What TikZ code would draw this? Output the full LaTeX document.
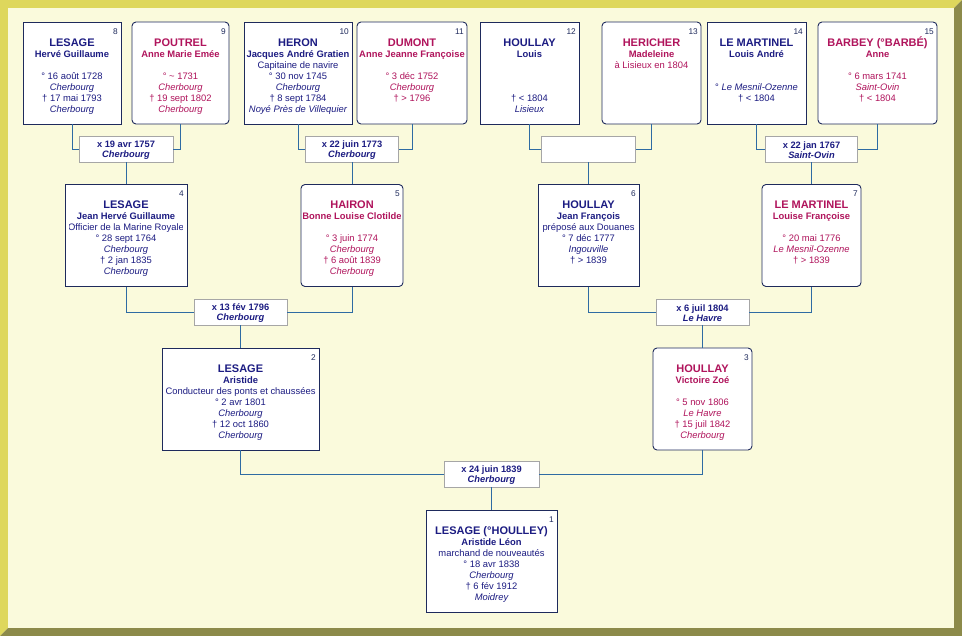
\documentclass[tikz,border=0pt]{standalone}
\usepackage{fontspec}
\setmainfont{Liberation Sans}
\usepackage{xcolor}
\usepackage{tikz}
\usetikzlibrary{positioning}

\definecolor{bleuhomme}{HTML}{1C1C82}
\definecolor{rosefemme}{HTML}{B0145C}
\definecolor{trait}{HTML}{2E6BA3}
\definecolor{fond}{HTML}{FAFADC}
\definecolor{cadre}{HTML}{1E2A5C}
\definecolor{gris}{HTML}{A6A6A6}
\definecolor{biseauclair}{HTML}{DED75C}
\definecolor{biseaufonce}{HTML}{8C8A4A}

\newcommand{\nom}[1]{\rule{0pt}{10pt}{\fontsize{11}{11}\selectfont\bfseries #1}}
\newcommand{\prenom}[1]{{\bfseries #1}}
\newcommand{\lieu}[1]{{\itshape #1}}
\newcommand{\vide}{\mbox{}}
\newcommand{\noce}[1]{\rule{0pt}{8.7pt}#1}

\begin{document}
\begin{tikzpicture}[x = 1pt, y = -1pt]
	\tikzstyle{male} = [rectangle, draw = cadre, line width = 0.9pt, fill = white, minimum height = 102pt, inner sep = 0pt]
	\tikzstyle{female} = [male, rounded corners = 4pt]
	\tikzstyle{union} = [rectangle, draw = gris, line width = 0.9pt, fill = white, minimum height = 26pt, inner sep = 0pt, align = center, text = bleuhomme, font = \fontsize{9.3}{10.5}\selectfont\bfseries]
	\tikzstyle{texte} = [anchor = north, inner sep = 0pt, align = center, font = \fontsize{9.4}{11}\selectfont]
	\tikzstyle{numero} = [anchor = east, inner sep = 0pt, text = cadre, font = \fontsize{8.3}{8}\selectfont]
	\tikzstyle{lien} = [draw = trait, line width = 0.9pt]
\useasboundingbox (0,0) rectangle (962,636);
% cadre
\fill[biseauclair] (0,0) -- (962,0) -- (954,8) -- (8,8) -- (8,628) -- (0,636) -- cycle;
\fill[biseaufonce] (962,0) -- (962,636) -- (0,636) -- (8,628) -- (954,628) -- (954,8) -- cycle;
\fill[fond] (8,8) rectangle (954,628);
% generation 4
\node[male, minimum width = 98pt] (p8) at (72,73) {};
\node[female, minimum width = 97pt] (p9) at (180.5,73) {};
\node[male, minimum width = 108pt] (p10) at (298,73) {};
\node[female, minimum width = 110pt] (p11) at (412,73) {};
\node[male, minimum width = 99pt] (p12) at (529.5,73) {};
\node[female, minimum width = 99pt] (p13) at (651.5,73) {};
\node[male, minimum width = 99pt] (p14) at (756.5,73) {};
\node[female, minimum width = 119pt] (p15) at (877.5,73) {};
% generation 3
\node[male, minimum width = 122pt] (p4) at (126,235.5) {};
\node[female, minimum width = 102pt] (p5) at (352,235.5) {};
\node[male, minimum width = 101pt] (p6) at (588.5,235.5) {};
\node[female, minimum width = 99pt] (p7) at (811.5,235.5) {};
% generation 2
\node[male, minimum width = 157pt] (p2) at (240.5,399) {};
\node[female, minimum width = 99pt] (p3) at (702.5,399) {};
% generation 1
\node[male, minimum width = 131pt] (p1) at (491.5,561) {};
% mariages
\node[union, minimum width = 94pt] (m8) at (126,149) {\noce{x 19 avr 1757}\\ \lieu{Cherbourg}};
\node[union, minimum width = 93pt] (m10) at (352,149) {\noce{x 22 juin 1773}\\ \lieu{Cherbourg}};
\node[union, minimum width = 94pt] (m12) at (588.5,149) {};
\node[union, minimum width = 92pt] (m14) at (811.5,149) {\noce{x 22 jan 1767}\\ \lieu{Saint-Ovin}};
\node[union, minimum width = 93pt] (m4) at (240.5,312) {\noce{x 13 fév 1796}\\ \lieu{Cherbourg}};
\node[union, minimum width = 93pt] (m6) at (702.5,312) {\noce{x 6 juil 1804}\\ \lieu{Le Havre}};
\node[union, minimum width = 95pt] (m2) at (491.5,474) {\noce{x 24 juin 1839}\\ \lieu{Cherbourg}};
% liens
	\path[draw][lien] (p8.south) |- (m8.west);
	\path[draw][lien] (p9.south) |- (m8.east);
	\path[draw][lien] (m8.south) -- (p4.north);
	\path[draw][lien] (p10.south) |- (m10.west);
	\path[draw][lien] (p11.south) |- (m10.east);
	\path[draw][lien] (m10.south) -- (p5.north);
	\path[draw][lien] (p12.south) |- (m12.west);
	\path[draw][lien] (p13.south) |- (m12.east);
	\path[draw][lien] (m12.south) -- (p6.north);
	\path[draw][lien] (p14.south) |- (m14.west);
	\path[draw][lien] (p15.south) |- (m14.east);
	\path[draw][lien] (m14.south) -- (p7.north);
	\path[draw][lien] (p4.south) |- (m4.west);
	\path[draw][lien] (p5.south) |- (m4.east);
	\path[draw][lien] (m4.south) -- (p2.north);
	\path[draw][lien] (p6.south) |- (m6.west);
	\path[draw][lien] (p7.south) |- (m6.east);
	\path[draw][lien] (m6.south) -- (p3.north);
	\path[draw][lien] (p2.south) |- (m2.west);
	\path[draw][lien] (p3.south) |- (m2.east);
	\path[draw][lien] (m2.south) -- (p1.north);
% fiches
\node[texte, text = bleuhomme] (t8) at ([yshift = -14.7pt]p8.north) {\nom{LESAGE}\\ \prenom{Hervé Guillaume}\\ \vide\\ ° 16 août 1728\\ \lieu{Cherbourg}\\ † 17 mai 1793\\ \lieu{Cherbourg}};
\node[texte, text = rosefemme] (t9) at ([yshift = -14.7pt]p9.north) {\nom{POUTREL}\\ \prenom{Anne Marie Emée}\\ \vide\\ ° \textasciitilde{} 1731\\ \lieu{Cherbourg}\\ † 19 sept 1802\\ \lieu{Cherbourg}};
\node[texte, text = bleuhomme] (t10) at ([yshift = -14.7pt]p10.north) {\nom{HERON}\\ \prenom{Jacques André Gratien}\\ Capitaine de navire\\ ° 30 nov 1745\\ \lieu{Cherbourg}\\ † 8 sept 1784\\ \lieu{Noyé Près de Villequier}};
\node[texte, text = rosefemme] (t11) at ([yshift = -14.7pt]p11.north) {\nom{DUMONT}\\ \prenom{Anne Jeanne Françoise}\\ \vide\\ ° 3 déc 1752\\ \lieu{Cherbourg}\\ † > 1796};
\node[texte, text = bleuhomme] (t12) at ([yshift = -14.7pt]p12.north) {\nom{HOULLAY}\\ \prenom{Louis}\\ \vide\\ \vide\\ \vide\\ † < 1804\\ \lieu{Lisieux}};
\node[texte, text = rosefemme] (t13) at ([yshift = -14.7pt]p13.north) {\nom{HERICHER}\\ \prenom{Madeleine}\\ à Lisieux en 1804};
\node[texte, text = bleuhomme] (t14) at ([yshift = -14.7pt]p14.north) {\nom{LE MARTINEL}\\ \prenom{Louis André}\\ \vide\\ \vide\\ ° \lieu{Le Mesnil-Ozenne}\\ † < 1804};
\node[texte, text = rosefemme] (t15) at ([yshift = -14.7pt]p15.north) {\nom{BARBEY (°BARBÉ)}\\ \prenom{Anne}\\ \vide\\ ° 6 mars 1741\\ \lieu{Saint-Ovin}\\ † < 1804};
\begin{scope}
	\clip ([xshift = 5pt]p4.south west) rectangle ([xshift = -5pt]p4.north east);
\node[texte, text = bleuhomme] (t4) at ([yshift = -14.7pt]p4.north) {\nom{LESAGE}\\ \prenom{Jean Hervé Guillaume}\\ Officier de la Marine Royale\\ ° 28 sept 1764\\ \lieu{Cherbourg}\\ † 2 jan 1835\\ \lieu{Cherbourg}};
\end{scope}
\begin{scope}
	\clip ([xshift = 3pt]p5.south west) rectangle ([xshift = -3pt]p5.north east);
\node[texte, text = rosefemme] (t5) at ([yshift = -14.7pt]p5.north) {\nom{HAIRON}\\ \prenom{Bonne Louise Clotilde}\\ \vide\\ ° 3 juin 1774\\ \lieu{Cherbourg}\\ † 6 août 1839\\ \lieu{Cherbourg}};
\end{scope}
\node[texte, text = bleuhomme] (t6) at ([yshift = -14.7pt]p6.north) {\nom{HOULLAY}\\ \prenom{Jean François}\\ préposé aux Douanes\\ ° 7 déc 1777\\ \lieu{Ingouville}\\ † > 1839};
\node[texte, text = rosefemme] (t7) at ([yshift = -14.7pt]p7.north) {\nom{LE MARTINEL}\\ \prenom{Louise Françoise}\\ \vide\\ ° 20 mai 1776\\ \lieu{Le Mesnil-Ozenne}\\ † > 1839};
\node[texte, text = bleuhomme] (t2) at ([yshift = -14.7pt]p2.north) {\nom{LESAGE}\\ \prenom{Aristide}\\ Conducteur des ponts et chaussées\\ ° 2 avr 1801\\ \lieu{Cherbourg}\\ † 12 oct 1860\\ \lieu{Cherbourg}};
\node[texte, text = rosefemme] (t3) at ([yshift = -14.7pt]p3.north) {\nom{HOULLAY}\\ \prenom{Victoire Zoé}\\ \vide\\ ° 5 nov 1806\\ \lieu{Le Havre}\\ † 15 juil 1842\\ \lieu{Cherbourg}};
\node[texte, text = bleuhomme] (t1) at ([yshift = -14.7pt]p1.north) {\nom{LESAGE (°HOULLEY)}\\ \prenom{Aristide Léon}\\ marchand de nouveautés\\ ° 18 avr 1838\\ \lieu{Cherbourg}\\ † 6 fév 1912\\ \lieu{Moidrey}};
% numeros
\node[numero] (n8) at ([xshift = -3.5pt, yshift = -10pt]p8.north east) {8};
\node[numero] (n9) at ([xshift = -3.5pt, yshift = -10pt]p9.north east) {9};
\node[numero] (n10) at ([xshift = -3.5pt, yshift = -10pt]p10.north east) {10};
\node[numero] (n11) at ([xshift = -3.5pt, yshift = -10pt]p11.north east) {11};
\node[numero] (n12) at ([xshift = -3.5pt, yshift = -10pt]p12.north east) {12};
\node[numero] (n13) at ([xshift = -3.5pt, yshift = -10pt]p13.north east) {13};
\node[numero] (n14) at ([xshift = -3.5pt, yshift = -10pt]p14.north east) {14};
\node[numero] (n15) at ([xshift = -3.5pt, yshift = -10pt]p15.north east) {15};
\node[numero] (n4) at ([xshift = -3.5pt, yshift = -10pt]p4.north east) {4};
\node[numero] (n5) at ([xshift = -3.5pt, yshift = -10pt]p5.north east) {5};
\node[numero] (n6) at ([xshift = -3.5pt, yshift = -10pt]p6.north east) {6};
\node[numero] (n7) at ([xshift = -3.5pt, yshift = -10pt]p7.north east) {7};
\node[numero] (n2) at ([xshift = -3.5pt, yshift = -10pt]p2.north east) {2};
\node[numero] (n3) at ([xshift = -3.5pt, yshift = -10pt]p3.north east) {3};
\node[numero] (n1) at ([xshift = -3.5pt, yshift = -10pt]p1.north east) {1};
\end{tikzpicture}
\end{document}
